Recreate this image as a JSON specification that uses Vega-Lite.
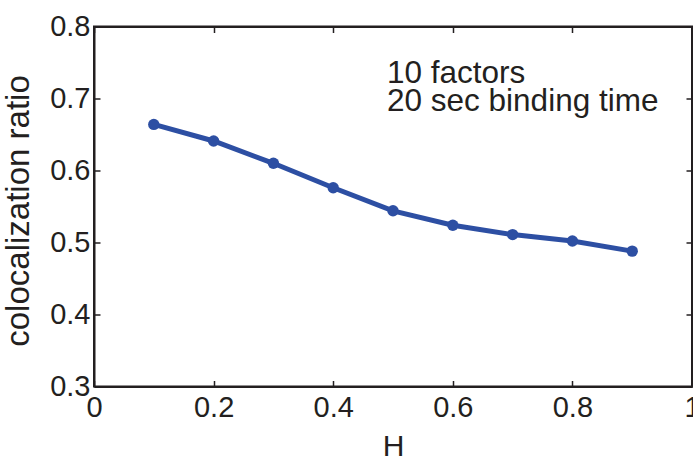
{
  "$schema": "https://vega.github.io/schema/vega-lite/v6.json",
  "width": 598,
  "height": 360,
  "autosize": {"type": "none"},
  "padding": {"left": 94, "top": 26.5, "right": 1, "bottom": 74.5},
  "background": "white",
  "config": {
    "view": {"stroke": "#231f20", "strokeWidth": 2},
    "font": "Liberation Sans",
    "axis": {
      "grid": false,
      "domainColor": "#231f20",
      "domainWidth": 2,
      "tickColor": "#231f20",
      "tickWidth": 1.5,
      "tickSize": -6,
      "labelFont": "Liberation Sans",
      "labelFontSize": 29,
      "labelColor": "#231f20",
      "titleFont": "Liberation Sans",
      "titleFontWeight": "normal",
      "titleColor": "#231f20"
    }
  },
  "resolve": {"axis": {"x": "independent", "y": "independent"}},
  "layer": [
    {
      "data": {"values": [
        {"H": 0.1, "ratio": 0.664},
        {"H": 0.2, "ratio": 0.641},
        {"H": 0.3, "ratio": 0.610},
        {"H": 0.4, "ratio": 0.576},
        {"H": 0.5, "ratio": 0.544},
        {"H": 0.6, "ratio": 0.524},
        {"H": 0.7, "ratio": 0.511},
        {"H": 0.8, "ratio": 0.502},
        {"H": 0.9, "ratio": 0.488}
      ]},
      "mark": {"type": "line", "color": "#2d4fa3", "strokeWidth": 5, "point": {"filled": true, "size": 130, "color": "#2d4fa3", "opacity": 1}},
      "encoding": {
        "x": {"field": "H", "type": "quantitative", "scale": {"domain": [0, 1], "nice": false, "zero": false},
          "axis": {"title": "H", "titleFontSize": 30, "values": [0, 0.2, 0.4, 0.6, 0.8, 1], "format": "~g", "labelPadding": 13, "titlePadding": 9, "labelFlush": false}},
        "y": {"field": "ratio", "type": "quantitative", "scale": {"domain": [0.3, 0.8], "nice": false, "zero": false},
          "axis": {"title": "colocalization ratio", "titleFontSize": 33, "titleY": 184, "values": [0.3, 0.4, 0.5, 0.6, 0.7, 0.8], "format": ".1f", "labelPadding": 10, "titlePadding": 14, "labelFlush": false}}
      }
    },
    {
      "data": {"values": [
        {"H": 0.49, "ratio": 0.7215, "label": "10 factors"},
        {"H": 0.49, "ratio": 0.682, "label": "20 sec binding time"}
      ]},
      "mark": {"type": "text", "align": "left", "baseline": "alphabetic", "fontSize": 31.5, "color": "#231f20", "font": "Liberation Sans"},
      "encoding": {
        "x": {"field": "H", "type": "quantitative", "scale": {"domain": [0, 1], "nice": false, "zero": false},
          "axis": {"orient": "top", "labels": false, "title": null, "values": [0, 0.2, 0.4, 0.6, 0.8, 1]}},
        "y": {"field": "ratio", "type": "quantitative", "scale": {"domain": [0.3, 0.8], "nice": false, "zero": false},
          "axis": {"orient": "right", "labels": false, "title": null, "values": [0.3, 0.4, 0.5, 0.6, 0.7, 0.8]}},
        "text": {"field": "label"}
      }
    }
  ]
}
